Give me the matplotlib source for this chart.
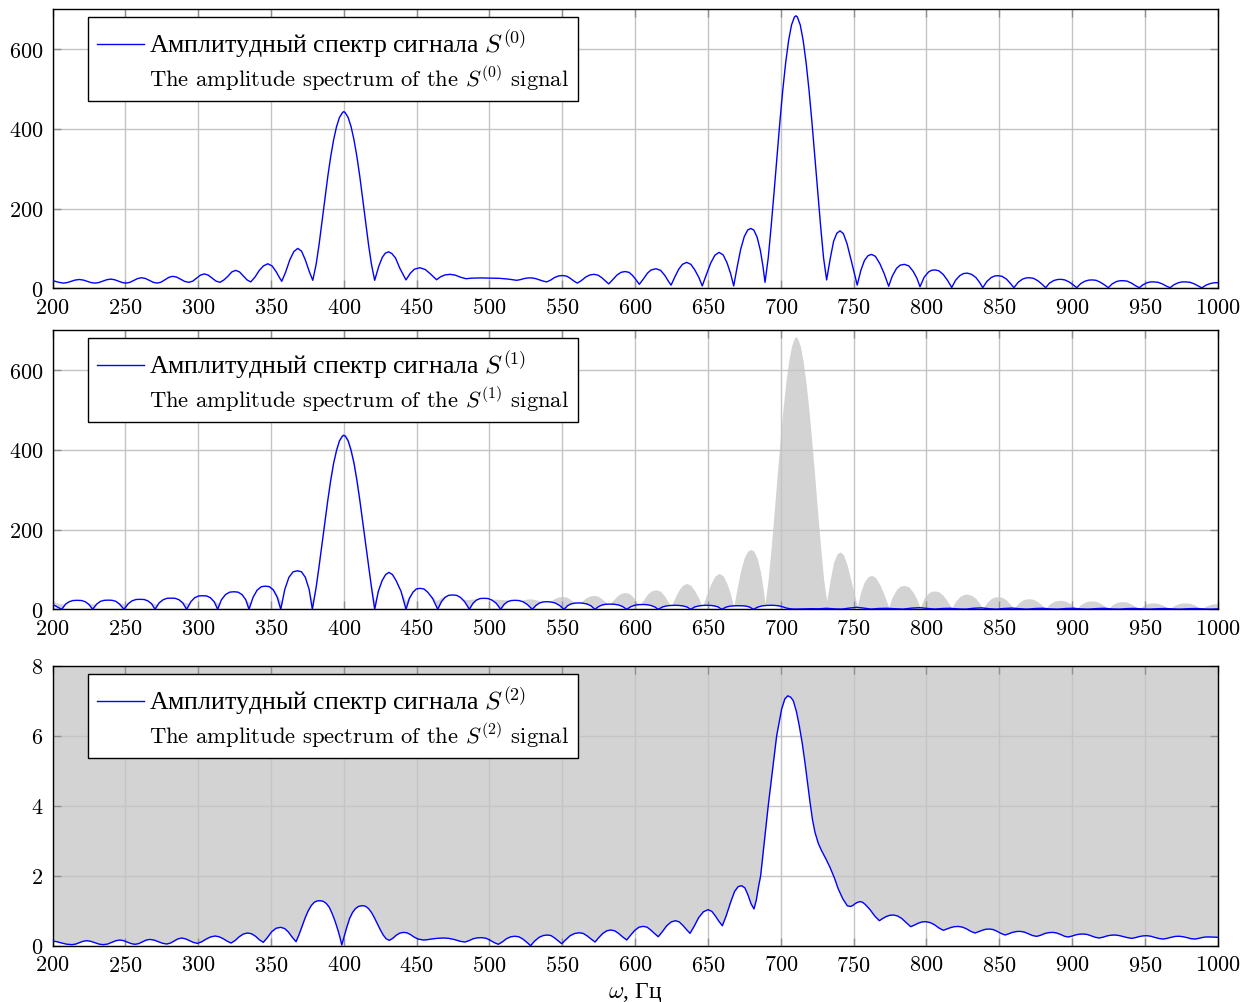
import numpy as np
import matplotlib
matplotlib.use('Agg')
import matplotlib.pyplot as plt
from matplotlib.lines import Line2D

plt.rcParams['font.family'] = ['cmr10']
plt.rcParams['mathtext.fontset'] = 'cm'
plt.rcParams['axes.formatter.use_mathtext'] = True
plt.rcParams['font.size'] = 16

CYR = 'Liberation Serif'

# ---- data ----

# S(0): amplitude spectrum of the original signal (Hz, value)
f0 = [200, 203.7, 207.4,
      210.1, 212.9, 215.6, 218.4, 221.1, 223.8, 226.5, 229.2,
      231.9, 234.6, 237.3, 240, 242.6, 245.2, 247.9, 250.5,
      253.2, 255.9, 258.5, 261.2, 263.9, 266.5, 269.2, 271.9,
      274.6, 277.2, 279.9, 282.5, 285.3, 288.1, 290.9, 293.7,
      296.3, 299, 301.6, 304.2, 306.9, 309.6, 312.3, 315,
      317.7, 320.4, 323.1, 325.8, 328.4, 331, 333.6, 336.1,
      339, 342, 344.8, 347.8, 350.8, 353.5, 355.8, 357.4,
      360, 363, 365.7, 368.4, 371, 373.5, 376.5, 378.7,
      381, 383, 385, 387, 389, 391, 393, 395, 397, 399, 400, 401, 403, 405, 407, 409, 411, 413, 415, 417, 419, 421.2,
      424, 426.5, 428.5, 430.8, 433, 435.5, 438.5, 442.7,
      445.5, 448.5, 452.3, 456, 459.5, 463.7,
      466.5, 469.5, 472.9, 476.5, 480, 483.9,
      488, 494, 500, 507, 513, 518.8,
      521.5, 524, 526.5, 529, 531.5, 534, 536.5, 539.3,
      542, 544.7, 547.5, 550.3, 553, 555.5, 558, 560.3,
      563, 566, 569, 571.8, 574.5, 577, 579.5, 581.9,
      584.5, 587.5, 590.3, 593.1, 595.8, 598.3, 600.7, 602.9,
      606, 608.5, 611, 614.4, 617.5, 620.5, 622.8, 624.7,
      627.5, 630, 632.5, 635.4, 638.3, 641, 643.8, 646.1,
      649, 652, 654.8, 657.6, 660.4, 663, 665.5, 667.7,
      670, 672.5, 675, 677.3, 679.4, 681.5, 683.8, 686, 687.8, 689.2,
      691.4, 693.4, 695.4, 697.4, 699.4, 701.4, 703.4, 705.4, 707.4, 709.4, 710.4,
      711.4, 713.4, 715.4, 717.4, 719.4, 721.4, 723.4, 725.4, 727.4, 729.4, 731.5,
      734, 736.3, 738.5, 740.7, 743, 745.5, 748.5, 752.5,
      755, 757.5, 760, 762.4, 765, 768, 771, 774.1,
      776.5, 779.5, 782, 784.9, 788, 791, 793.5, 795.6,
      798.5, 801.5, 803.5, 805.9, 808.5, 811.5, 814.5, 817.4,
      820, 823, 825.5, 828.1, 831, 834, 836.5, 838.7,
      841.5, 844.5, 847, 849.4, 852, 855, 857.5, 860.1,
      863, 866, 868.5, 870.7, 873.5, 876.5, 879.5, 881.9,
      884.5, 887.5, 890, 892.4, 895, 898, 901, 903.2,
      906, 909, 911.5, 913.9, 916.5, 919.5, 922.5, 924.9,
      927.5, 930.5, 933, 935.2, 937.8, 940.8, 943.8, 946.2,
      948.8, 951.5, 954, 956.3, 959, 962, 965, 967.3,
      970, 973, 975.5, 978.3, 981, 984, 987, 989.1,
      992, 995, 998, 1000]
s0 = [19.5, 15.5, 13,
      14.3, 17.5, 20.7, 22, 20.7, 17.5, 14.3, 13,
      14.5, 18, 21.5, 23, 21.5, 18, 14.5, 13,
      15, 19.8, 24.5, 26.5, 24.5, 19.8, 15, 13,
      15.5, 21.5, 27.5, 30, 28, 22.5, 17, 15,
      18, 25.5, 33, 36, 33, 25.5, 18, 15,
      21, 30, 41, 45, 41, 31, 21, 16,
      28, 45, 56, 61.5, 56, 42, 27, 17.5,
      40, 72, 92, 100, 93, 72, 40, 20,
      60, 109, 165, 223, 280, 330, 372, 405, 428, 440, 443, 440, 428, 405, 372, 330, 280, 223, 165, 109, 60, 20,
      55, 78, 88, 91.5, 87, 76, 50, 21,
      37, 48, 51.5, 47, 36, 21.5,
      29, 33.5, 35, 33, 28, 24,
      25.5, 26, 25.5, 25, 23, 20,
      22, 24.5, 26, 26, 24.5, 21.5, 18.5, 16,
      20.5, 27, 31, 32, 30.5, 25, 18, 13,
      19, 28, 33.5, 35, 33, 27, 19, 11,
      21, 33, 40, 42, 40, 32, 21, 10,
      25, 38, 46, 49, 45, 32, 18, 8,
      30, 48, 60, 65, 60, 46, 27, 6,
      35, 64, 83, 90, 84, 65, 38, 6,
      52, 98, 130, 146, 150, 146, 128, 95, 55, 15,
      76, 155, 240, 330, 417, 497, 566, 621, 660, 680, 683,
      680, 660, 621, 566, 497, 417, 330, 240, 155, 76, 21,
      75, 118, 138, 144, 137, 112, 68, 8,
      45, 70, 82, 85, 80, 62, 37, 5,
      30, 50, 58, 60, 56, 42, 25, 4,
      28, 41, 45, 46, 44, 35, 20, 2,
      20, 32, 37, 38, 35, 27, 15, 1.5,
      17, 27, 31, 31.5, 30, 23, 13, 1.5,
      15, 23, 26, 26.5, 25, 19, 10, 1.5,
      13, 19.5, 22, 22.5, 21, 16, 8, 1.5,
      12, 18, 20.5, 21, 20, 15, 8, 1.5,
      11, 17, 19, 19, 18, 13, 6, 1.5,
      9, 14, 16, 16, 15, 11, 5, 1.5,
      9, 14, 16, 16, 15, 11, 5, 1,
      8, 12, 14, 14]

# S(1): spectrum after the 710 Hz component was removed
f1 = [200, 203.3, 206.3, 209, 211.5, 214, 217, 220, 222.5, 225, 227.6, 230.3, 233, 235.5, 238.3, 241, 243.5, 246,
      249.1, 252, 254.5, 257.3, 260.1, 263, 265.5, 268, 270.4, 273.2, 276, 278.6, 281.4, 284.2, 286.8, 289.4,
      292.1, 295, 297.6, 300.4, 303.1, 305.8, 308.4, 311, 313.4, 316, 318.8, 321.7, 324.6, 327.4, 330.1, 332.7,
      334.9, 337.7, 340.5, 343.3, 346.1, 349, 351.7, 354.3, 356.7, 359.5, 362.3, 365.2, 368.1, 371, 373.6, 376.2,
      378.4, 381, 383, 385, 387, 389, 391, 393, 395, 397, 399, 400, 401, 403, 405, 407, 409, 411, 413, 415, 417, 419,
      421.2, 423.7, 426.3, 428.7, 431, 433.4, 435.9, 439.3, 442.7, 445, 447.5, 449.8, 452.3, 455, 457.6, 461,
      464.5, 467, 469.5, 472, 474.6, 477.4, 480, 483, 486.2, 488.7, 491, 493.6, 496.2, 499, 501.7, 504.7,
      507.7, 510, 512.4, 515, 517.5, 520.2, 523, 526, 529.4, 532, 534.5, 537, 539.3, 542, 545, 548,
      551.2, 553.6, 556, 558.5, 561, 563.8, 566.8, 569.6, 572.4, 575, 577.5, 580, 582.8, 585.5, 588.6, 591.4,
      594.2, 597, 599.6, 602.4, 605.2, 607.8, 610.5, 613.2, 615.9, 618.9, 621.6, 624.6, 627.4, 630.2, 632.8, 635.5,
      638.2, 641, 643.8, 646.5, 649.2, 652, 654.5, 657, 659.5, 662.5, 665.3, 668.2, 670.9, 673.6, 676.2, 678.7,
      681.2, 684.5, 687.5, 690.8, 693.8, 696.5, 699, 701.5, 704, 707, 710,
      715, 721, 726, 731.5, 737, 742, 747, 752, 757, 762, 767, 772.7, 778, 784, 790, 795.6, 801, 806, 811, 816.2,
      821.5, 827, 832, 838, 843, 848, 853, 859, 864, 869, 875, 880, 885, 890, 896, 901, 906, 911, 917, 922,
      927, 932, 938, 943, 948, 953, 959, 964, 969, 974, 980, 985, 990, 995, 1000]
s1 = [12.5, 6, 0, 13, 19, 22, 22.5, 22, 19, 12, 0, 13, 20, 22.5, 23, 22.5, 20, 13,
      0, 14, 21, 24.5, 25, 24.5, 21, 14, 0, 16, 24, 27.5, 28, 27.5, 24, 16,
      0, 19, 29, 33.5, 34, 33.5, 29, 19, 0, 24, 37, 43, 44, 43, 37, 24,
      0, 30, 48, 56.5, 58, 56.5, 48, 30, 0, 50, 80, 94, 96.5, 94, 80, 50,
      0, 55, 107, 162, 218, 273, 323, 366, 398, 422, 434, 436, 434, 422, 398, 366, 323, 273, 218, 162, 107, 55,
      0, 45, 72, 87, 92.5, 87, 72, 45, 0, 27, 43, 51, 52.5, 51, 43, 27,
      0, 19, 30, 35, 36, 35, 30, 19, 0, 15, 23, 27, 27.5, 27, 23, 15,
      0, 12, 19, 22, 22.5, 22, 19, 12, 0, 10, 16, 18.5, 19, 18.5, 16, 10,
      0, 9, 13.5, 15.5, 16, 15.5, 13.5, 9, 0, 7, 11, 12.7, 13, 12.7, 11, 7,
      0, 6.5, 10, 11.7, 12, 11.7, 10, 6.5, 0, 6, 8.5, 9.7, 10, 9.7, 8.5, 6,
      0, 6, 8.5, 9.7, 10, 9.7, 8.5, 6, 0, 5.5, 8, 8.8, 9, 8.8, 8, 5.5,
      0, 6, 8.8, 9.8, 10, 9.6, 8.5, 6, 3, 1, 0.5,
      1, 1.5, 1.2, 2.5, 1, 0.5, 3, 5, 3, 0.5, 2, 2.5, 1.5, 0.5, 3, 4, 2, 0.5, 2, 2.5,
      1, 0.3, 2.5, 3.5, 1.5, 0.3, 2, 3, 1.5, 0.3, 2, 2.5, 1, 0.3, 2, 2.5, 1, 0.3, 1.8, 2.5,
      1, 0.3, 1.8, 2.2, 1, 0.3, 1.5, 2, 1, 0.3, 1.5, 2, 1, 0.3, 1]

# S(2): spectrum of the filtered signal
f2 = [200, 203, 206, 209.5, 213.2,
      215.8, 218.3, 220.9, 223.5, 226.3, 229.2, 232, 234.9,
      237.8, 240.6, 243.5, 246.3, 248.9, 251.5, 254, 256.6,
      259.2, 261.8, 264.3, 266.9, 269.8, 272.6, 275.5, 278.4,
      281, 283.5, 286.1, 288.7, 291.4, 294, 296.7, 299.4,
      302.4, 305.5, 308.5, 311.6, 314.4, 317.2, 319.9, 322.6,
      325.4, 328.3, 331.1, 334, 336.7, 339.4, 342, 344.7,
      347.5, 350.5, 353.6, 356.7, 359.4, 362, 364.6, 367.2,
      369.3, 371.4, 373.5, 375.6, 377.7, 379.8, 381.8, 383.7, 385.8, 387.9, 390, 392, 394, 396, 397.6, 398.6,
      400.3, 402, 404, 406, 408, 410, 411.8, 413.4, 415.2, 417, 419, 421, 423, 425, 427, 429, 431.2,
      433.6, 436, 438.4, 440.9, 443.3, 445.7, 448.1, 451, 454.6,
      457, 460, 464, 468.3, 472, 476, 480, 483.2,
      486, 488.9, 491.8, 494.7, 497.5, 500.3, 503.2, 506.1,
      508.9, 511.7, 514.6, 517.5, 520.2, 522.9, 525.6, 528.3,
      530.9, 534.1, 536.9, 539.7, 542.2, 544.8, 547.2, 549.6,
      552.4, 555.5, 558.6, 561.7, 564.4, 567.1, 569.8, 572.5,
      575, 577.8, 580.5, 583.2, 586, 588.7, 591.5, 594.2,
      596.9, 599.8, 602.7, 605.6, 608.2, 610.7, 613.3, 615.9,
      618.7, 621.7, 624.8, 627.8, 630.3, 632.8, 635.3, 637.7,
      640.5, 643.6, 646.9, 650.2, 652.7, 655.1, 657.5, 659.9,
      662.5, 665.4, 668.3, 670.8, 673.2, 675.4, 677.5, 679.6, 681.6,
      683.2, 684.8, 686.2, 688.8, 691.4, 694.3, 697.2, 700.6, 702.8, 704.8,
      706.8, 708.6, 710.7, 712.7, 714.7, 716.6, 718.4, 720.1, 721.8, 723.5, 725.8, 728.1, 731, 733.8, 736.8,
      739.5, 742.6, 745.7, 748, 749.5, 751, 752.5, 754.4, 756, 758, 761.3, 764.5, 767.7,
      770.1, 772.5, 774.9, 777.3, 780.2, 783, 786.1, 789.2,
      791.8, 794.5, 797.1, 799.7, 802.6, 805.5, 808.5, 811.6,
      814.2, 816.8, 819.3, 821.9, 824.8, 827.6, 830.5, 833.4,
      835.8, 838.3, 840.7, 843.2, 845.9, 848.6, 851.3, 854,
      856.5, 859, 861.7, 864.3, 867.2, 870, 872.9, 875.7,
      878.5, 881.4, 884.2, 887.1, 889.7, 892.2, 894.8, 897.4,
      900, 902.5, 905.1, 907.7, 910.5, 913.2, 916, 918.7,
      921.4, 924, 926.8, 929.5, 932.3, 935.2, 938.1, 941,
      943.5, 946, 948.7, 951.3, 954.1, 957, 959.8, 962.6,
      965.3, 968, 970.8, 973.6, 976.3, 979, 981.7, 984.4,
      987, 989.5, 992, 994.7, 997.4, 1000]
s2 = [0.134, 0.115, 0.08, 0.045, 0.03,
      0.045, 0.085, 0.125, 0.143, 0.125, 0.085, 0.045, 0.03,
      0.047, 0.095, 0.143, 0.163, 0.143, 0.10, 0.06, 0.04,
      0.06, 0.11, 0.16, 0.18, 0.16, 0.115, 0.07, 0.048,
      0.075, 0.135, 0.195, 0.22, 0.195, 0.145, 0.095, 0.067,
      0.11, 0.19, 0.25, 0.277, 0.255, 0.2, 0.13, 0.076,
      0.15, 0.26, 0.335, 0.363, 0.34, 0.27, 0.17, 0.096,
      0.23, 0.40, 0.50, 0.525, 0.49, 0.39, 0.24, 0.115,
      0.32, 0.56, 0.80, 1.0, 1.15, 1.245, 1.28, 1.286, 1.27, 1.21, 1.1, 0.92, 0.7, 0.44, 0.2, 0.02,
      0.27, 0.52, 0.78, 0.95, 1.06, 1.12, 1.14, 1.143, 1.12, 1.06, 0.95, 0.8, 0.63, 0.46, 0.31, 0.2, 0.153,
      0.21, 0.30, 0.36, 0.38, 0.37, 0.32, 0.25, 0.19, 0.163,
      0.17, 0.19, 0.21, 0.22, 0.21, 0.175, 0.125, 0.105,
      0.145, 0.2, 0.225, 0.23, 0.215, 0.16, 0.09, 0.04,
      0.11, 0.2, 0.255, 0.27, 0.255, 0.19, 0.1, 0.0,
      0.13, 0.24, 0.29, 0.306, 0.29, 0.22, 0.14, 0.057,
      0.17, 0.29, 0.35, 0.37, 0.35, 0.28, 0.19, 0.105,
      0.23, 0.35, 0.425, 0.449, 0.425, 0.35, 0.25, 0.163,
      0.30, 0.44, 0.53, 0.553, 0.53, 0.45, 0.35, 0.257,
      0.40, 0.57, 0.68, 0.714, 0.68, 0.58, 0.46, 0.354,
      0.55, 0.80, 0.97, 1.03, 0.98, 0.85, 0.70, 0.571,
      0.85, 1.22, 1.55, 1.69, 1.714, 1.65, 1.45, 1.2, 1.05,
      1.3, 1.7, 2.0, 3.0, 4.0, 5.0, 6.0, 6.76, 7.05, 7.14,
      7.1, 7.0, 6.7, 6.29, 5.8, 5.24, 4.65, 4.1, 3.6, 3.24, 2.92, 2.71, 2.48, 2.24, 1.94,
      1.62, 1.34, 1.14, 1.12, 1.15, 1.2, 1.235, 1.26, 1.245, 1.18, 1.03, 0.85, 0.714,
      0.78, 0.835, 0.87, 0.877, 0.85, 0.78, 0.66, 0.543,
      0.59, 0.645, 0.68, 0.686, 0.66, 0.60, 0.51, 0.44,
      0.48, 0.52, 0.545, 0.55, 0.53, 0.48, 0.41, 0.363,
      0.40, 0.44, 0.47, 0.477, 0.46, 0.41, 0.35, 0.306,
      0.34, 0.38, 0.405, 0.41, 0.39, 0.34, 0.29, 0.267,
      0.30, 0.35, 0.375, 0.38, 0.36, 0.32, 0.27, 0.25,
      0.275, 0.31, 0.33, 0.334, 0.32, 0.28, 0.24, 0.22,
      0.245, 0.28, 0.30, 0.306, 0.29, 0.26, 0.23, 0.21,
      0.23, 0.26, 0.28, 0.286, 0.27, 0.235, 0.205, 0.19,
      0.21, 0.24, 0.265, 0.27, 0.255, 0.23, 0.2, 0.19,
      0.21, 0.235, 0.25, 0.25, 0.245, 0.24]

xticks = list(range(200, 1001, 50))
yticks_top = [0, 200, 400, 600]
yticks_bot = [0, 2, 4, 6, 8]
label_ru = 'Амплитудный спектр сигнала $S^{(%d)}$'
label_en = 'The amplitude spectrum of the $S^{(%d)}$ signal'

BLUE = '#0000ff'
GRAY = '#d3d3d3'

fig = plt.figure(figsize=(12.51, 10.03), dpi=100)
W = 1251.0
H = 1003.0
L = 52.5 / W
AW = 1165.2 / W
boxes = [(289.3, 279.3), (610.3, 279.3), (946.7, 280.0)]
axes = []
for bot, hgt in boxes:
    axes.append(fig.add_axes([L, 1 - bot / H, AW, hgt / H]))


def style(ax, yticks, ymax):
    ax.set_xlim(200, 1000)
    ax.set_ylim(0, ymax)
    ax.set_xticks(xticks)
    ax.set_yticks(yticks)
    ax.grid(True, color='#c4c4c4', lw=1.0)
    ax.tick_params(direction='in', length=6, width=1.0, color='#909090',
                   top=True, right=True, pad=6.5)
    for sp in ax.spines.values():
        sp.set_linewidth(1.0)
        sp.set_color('black')


def legend(ax, k):
    h = [Line2D([], [], color=BLUE, lw=1.0), Line2D([], [], color='none')]
    lg = ax.legend(h, [label_ru % k, label_en % k], loc='upper left',
                   bbox_to_anchor=(0.0305, 0.971), fancybox=False, framealpha=1,
                   edgecolor='black', handlelength=2.08, handletextpad=0.2,
                   labelspacing=0.2, borderpad=0.4, borderaxespad=0,
                   fontsize=16.3)
    lg.get_frame().set_linewidth(1.0)
    lg.get_texts()[0].set_fontfamily(CYR)
    lg.get_texts()[0].set_fontsize(18.5)
    lg.set_zorder(5)


ax = axes[0]
ax.plot(f0, s0, color=BLUE, lw=1.0, zorder=3)
style(ax, yticks_top, 700)
legend(ax, 0)

ax = axes[1]
ax.fill_between(f0, 0, s0, color=GRAY, lw=0, zorder=1)
ax.fill_between(f1, 0, s1, color='white', lw=0, zorder=1.1)
ax.plot(f1, s1, color=BLUE, lw=1.0, zorder=3)
style(ax, yticks_top, 700)
legend(ax, 1)

ax = axes[2]
ax.set_facecolor(GRAY)
ax.fill_between(f2, 0, s2, color='white', lw=0, zorder=1)
ax.plot(f2, s2, color=BLUE, lw=1.0, zorder=3)
style(ax, yticks_bot, 8)
legend(ax, 2)
xl = ax.set_xlabel('$\\omega$, Гц', labelpad=4)
xl.set_fontfamily(CYR)
xl.set_fontsize(17)

fig.savefig('out.png', dpi=100)
